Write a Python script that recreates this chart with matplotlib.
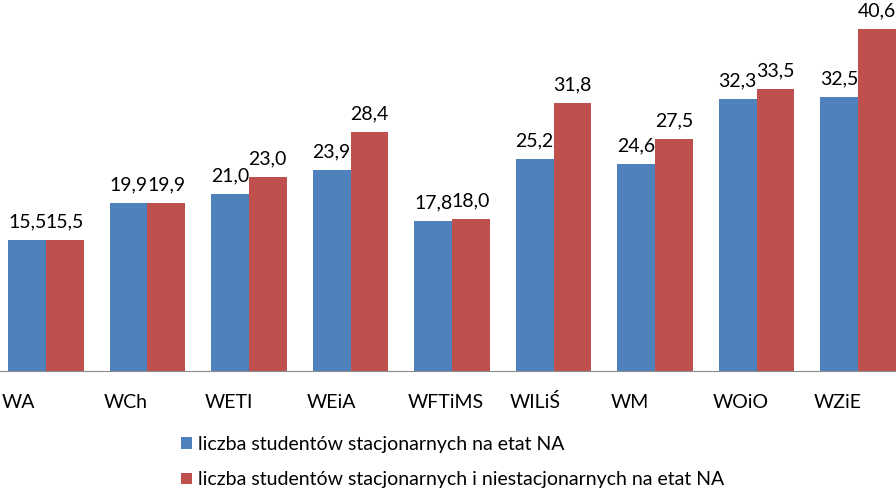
import matplotlib
matplotlib.use("Agg")
import matplotlib.pyplot as plt
from matplotlib.patches import Patch
import matplotlib.transforms as mtransforms
import numpy as np

plt.rcParams['font.family'] = ['Lato', 'DejaVu Sans']

categories = ["WA", "WCh", "WETI", "WEiA", "WFTiMS", "WILiŚ", "WM", "WOiO", "WZiE"]
stacjonarni = [15.5, 19.9, 21.0, 23.9, 17.8, 25.2, 24.6, 32.3, 32.5]
wszyscy = [15.5, 19.9, 23.0, 28.4, 18.0, 31.8, 27.5, 33.5, 40.6]
series_names = ["liczba studentów stacjonarnych na etat NA",
                "liczba studentów stacjonarnych i niestacjonarnych na etat NA"]
colors = ["#4F81BD", "#C0504D"]

fig = plt.figure(figsize=(8.96, 4.94), dpi=100)
ax = fig.add_axes([0, 1 - 371/494, 1, 371/494])

x = np.arange(len(categories))
w = 0.37
b1 = ax.bar(x - w/2, stacjonarni, w, color=colors[0], label=series_names[0])
b2 = ax.bar(x + w/2, wszyscy, w, color=colors[1], label=series_names[1])

def fmt(v):
    return f"{v:.1f}".replace(".", ",")

for bars, vals in ((b1, stacjonarni), (b2, wszyscy)):
    for r, v in zip(bars, vals):
        ax.annotate(fmt(v), (r.get_x() + r.get_width()/2, v), xytext=(0, 7),
                    textcoords="offset points", ha="center", va="bottom",
                    fontsize=14, color="#000000")

ax.set_xlim(-0.453, 8.374)
ax.set_ylim(0, 44.06)
for s in ("top", "right", "left"):
    ax.spines[s].set_visible(False)
ax.spines["bottom"].set_color("#8c8c8c")
ax.set_yticks([])
ax.set_xticks([])

trans = mtransforms.blended_transform_factory(ax.transData, ax.transAxes)
for i, c in enumerate(categories):
    ax.text(i - 44/101.5, -31/371, c, transform=trans, ha="left", va="center",
            fontsize=14, color="#000000")

handles = [Patch(facecolor=colors[0]), Patch(facecolor=colors[1])]
fig.legend(handles, series_names, loc="center left",
           bbox_to_anchor=(181/896, 1 - 462/494), frameon=False,
           fontsize=14, handlelength=0.55, handleheight=0.55,
           handletextpad=0.3, labelspacing=0.95, borderpad=0, borderaxespad=0,
           labelcolor="#000000")

fig.savefig("out.png", dpi=100)
